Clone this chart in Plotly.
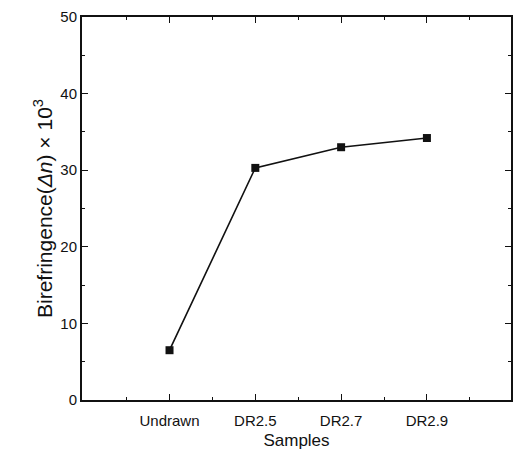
import plotly.graph_objects as go

samples = ["Undrawn", "DR2.5", "DR2.7", "DR2.9"]
birefringence = [6.5, 30.3, 33.0, 34.2]
y_ticks = [0, 10, 20, 30, 40, 50]

x_pos = list(range(1, len(samples) + 1))

fig = go.Figure()
fig.add_trace(go.Scatter(
    x=x_pos, y=birefringence, mode="lines+markers",
    line=dict(color="#111111", width=1.6),
    marker=dict(symbol="square", size=8, color="#111111"),
    showlegend=False,
))

font = dict(family="Liberation Sans, Arial, sans-serif", color="#111111")

fig.update_layout(
    width=515, height=450,
    margin=dict(l=82, r=4, t=17, b=50),
    paper_bgcolor="white", plot_bgcolor="white",
    font=font,
)
fig.update_xaxes(
    range=[-0.02, 4.98], tickmode="array", tickvals=x_pos, ticktext=samples,
    ticks="inside", ticklen=6, tickwidth=1, tickcolor="#111111",
    minor=dict(ticks="inside", ticklen=3, dtick=1, tick0=0.5, tickcolor="#111111"),
    showline=True, linecolor="#111111", linewidth=2, mirror="ticks",
    showgrid=False, zeroline=False, automargin=False,
    ticklabelstandoff=6,
    tickfont=dict(size=15, **font),
    title=dict(text="Samples", font=dict(size=17, **font), standoff=11),
)
fig.update_yaxes(
    range=[0, 50], tickmode="array", tickvals=y_ticks,
    ticks="inside", ticklen=6, tickwidth=1, tickcolor="#111111",
    minor=dict(ticks="inside", ticklen=3, dtick=5, tick0=5, tickcolor="#111111"),
    showline=True, linecolor="#111111", linewidth=2, mirror="ticks",
    showgrid=False, zeroline=False, automargin=False,
    tickfont=dict(size=15, **font),
    title=dict(text="Birefringence(<i>Δn</i>) \u00d7 10<sup>3</sup>", font=dict(size=21, **font), standoff=2),
)

fig.write_html("out.html")
